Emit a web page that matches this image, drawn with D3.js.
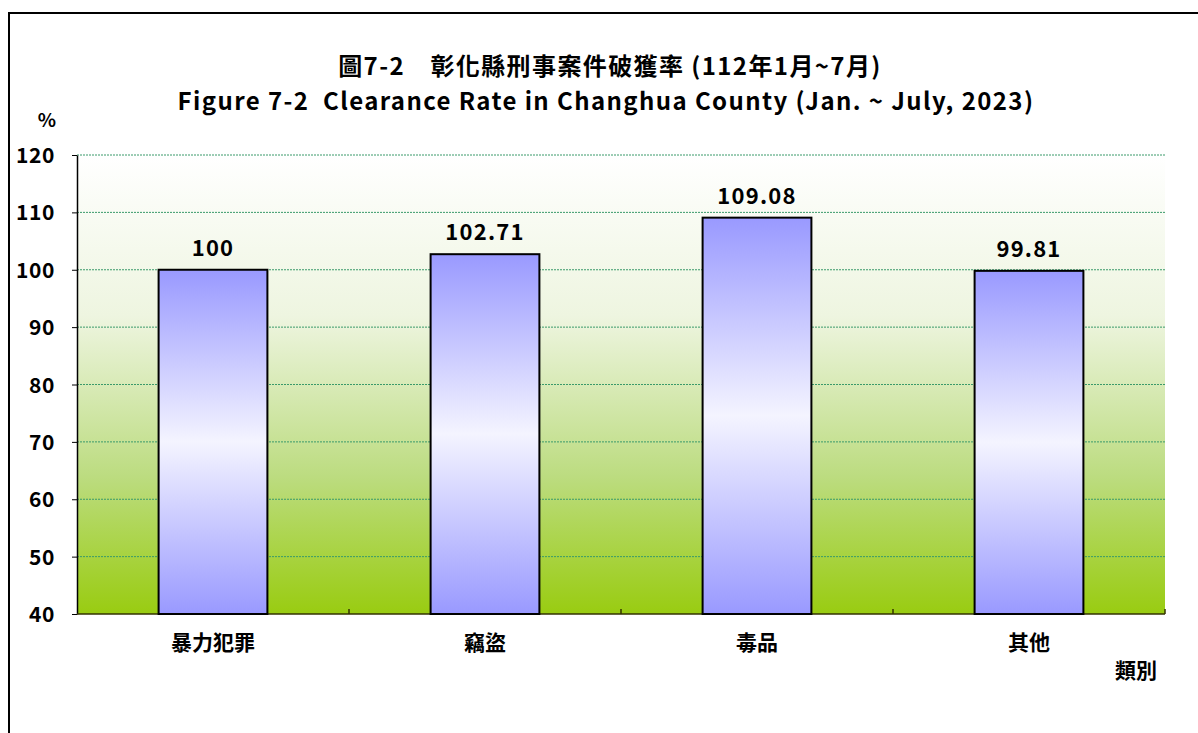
<!DOCTYPE html>
<html>
<head>
<meta charset="utf-8">
<script src="https://cdn.jsdelivr.net/npm/d3@7"></script>
<style>
  body { margin: 0; background: #fff; }
  svg text { font-family: "Noto Sans CJK TC", "Noto Sans", sans-serif; font-weight: bold; fill: #000; white-space: pre; }
</style>
</head>
<body>
<div id="chart"></div>
<script>
const categories = ['暴力犯罪', '竊盜', '毒品', '其他'];
const rates = [100, 102.71, 109.08, 99.81];
const rateLabels = ['100', '102.71', '109.08', '99.81'];
const yTicks = [40, 50, 60, 70, 80, 90, 100, 110, 120];

const W = 1198, H = 733;
const MARGIN = { top: 155, right: 33, bottom: 119, left: 77 };
const gW = W - MARGIN.left - MARGIN.right;
const gH = H - MARGIN.top - MARGIN.bottom;

const svg = d3.select('#chart').append('svg').attr('width', W).attr('height', H);
const defs = svg.append('defs');

// background gradient of the plot area
const bgGrad = defs.append('linearGradient').attr('id', 'bg-grad')
    .attr('x1', 0).attr('y1', 0).attr('x2', 0).attr('y2', 1);
bgGrad.append('stop').attr('offset', '0%').attr('stop-color', '#ffffff');
bgGrad.append('stop').attr('offset', '35%').attr('stop-color', '#eef5e0');
bgGrad.append('stop').attr('offset', '70%').attr('stop-color', '#bcdc80');
bgGrad.append('stop').attr('offset', '100%').attr('stop-color', '#99cc11');

// bar gradient (blue - white - blue)
const barGrad = defs.append('linearGradient').attr('id', 'bar-grad')
    .attr('x1', 0).attr('y1', 0).attr('x2', 0).attr('y2', 1);
barGrad.append('stop').attr('offset', '0%').attr('stop-color', '#9999ff');
barGrad.append('stop').attr('offset', '50%').attr('stop-color', '#f4f4ff');
barGrad.append('stop').attr('offset', '100%').attr('stop-color', '#9999ff');

// outer frame
svg.append('rect')
    .attr('x', 9).attr('y', 13).attr('width', W).attr('height', H)
    .attr('fill', 'none').attr('stroke', '#000').attr('stroke-width', 2);

// titles
svg.append('text').attr('x', 610).attr('y', 75).attr('text-anchor', 'middle')
    .style('font-size', '24px').style('letter-spacing', '1.4px')
    .text('圖7-2\u3000彰化縣刑事案件破獲率 (112年1月~7月)');
svg.append('text').attr('x', 606).attr('y', 110).attr('text-anchor', 'middle')
    .style('font-size', '24px').style('letter-spacing', '1.4px')
    .text('Figure 7-2  Clearance Rate in Changhua County (Jan. ~ July, 2023)');

const g = svg.append('g').attr('transform', `translate(${MARGIN.left},${MARGIN.top})`);

const x = d3.scaleBand().domain(categories).range([0, gW]).paddingInner(0).paddingOuter(0);
const y = d3.scaleLinear().domain([40, 120]).range([gH, 0]);

g.append('rect').attr('width', gW).attr('height', gH).attr('fill', 'url(#bg-grad)');

// gridlines
g.selectAll('.grid').data(yTicks.slice(1)).enter().append('line')
    .attr('class', 'grid')
    .attr('x1', 0).attr('x2', gW)
    .attr('y1', d => y(d)).attr('y2', d => y(d))
    .attr('stroke', '#3a9a6a').attr('stroke-width', 1)
    .attr('stroke-dasharray', '2,1');

// y axis
const yAxis = g.append('g').attr('class', 'axis y-axis')
    .call(d3.axisLeft(y).tickValues(yTicks).tickSizeInner(5).tickSizeOuter(0).tickPadding(17));
yAxis.select('.domain').attr('stroke', '#000').attr('stroke-width', 1.5);
yAxis.selectAll('.tick line').attr('stroke', '#000');
yAxis.selectAll('.tick text').style('font-size', '21px').style('letter-spacing', '0.6px')
    .attr('font-family', null).attr('dy', '0.36em');

svg.append('text').attr('x', 47).attr('y', 127).attr('text-anchor', 'middle')
    .style('font-size', '19px').text('%');

// x axis: boundary ticks pointing up
const bounds = categories.map(c => x(c) + x.bandwidth());
g.selectAll('.xtick').data(bounds).enter().append('line')
    .attr('x1', d => d).attr('x2', d => d)
    .attr('y1', gH).attr('y2', gH - 5)
    .attr('stroke', '#333300').attr('stroke-width', 1.5);
g.append('line').attr('x1', 0).attr('x2', gW).attr('y1', gH).attr('y2', gH)
    .attr('stroke', '#333300').attr('stroke-width', 1.5);

// bars
const barW = x.bandwidth() * 0.4;
g.selectAll('.bars-data').data(rates).enter().append('rect')
    .attr('class', 'bars-data')
    .attr('x', (d, i) => x(categories[i]) + (x.bandwidth() - barW) / 2)
    .attr('width', barW)
    .attr('y', d => y(d))
    .attr('height', d => y(40) - y(d))
    .attr('fill', 'url(#bar-grad)')
    .attr('stroke', '#000').attr('stroke-width', 2);

// value labels
g.selectAll('.num-vals').data(rates).enter().append('text')
    .attr('class', 'num-vals')
    .attr('x', (d, i) => x(categories[i]) + x.bandwidth() / 2)
    .attr('y', d => y(d) - 14)
    .attr('text-anchor', 'middle')
    .style('font-size', '22px').style('letter-spacing', '1.2px')
    .text((d, i) => rateLabels[i]);

// category labels
g.selectAll('.cat-lab').data(categories).enter().append('text')
    .attr('class', 'cat-lab')
    .attr('x', d => x(d) + x.bandwidth() / 2)
    .attr('y', gH + 36)
    .attr('text-anchor', 'middle')
    .style('font-size', '21px')
    .text(d => d);

svg.append('text').attr('x', 1136).attr('y', 678).attr('text-anchor', 'middle')
    .style('font-size', '21px').text('類別');
</script>
</body>
</html>
